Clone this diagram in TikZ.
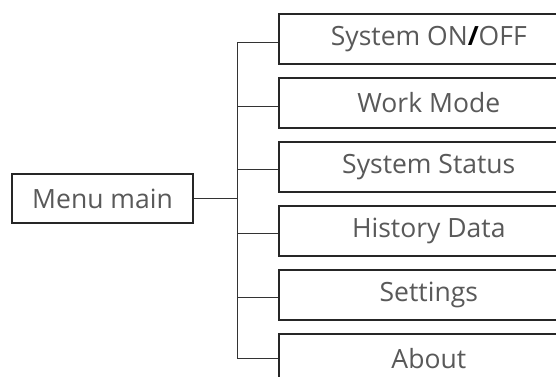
\documentclass[tikz,border=0pt]{standalone}
\usepackage{fontspec}
\setmainfont{Open Sans}
\begin{document}
\begin{tikzpicture}[x=1pt,y=-1pt,
  item/.style={draw=black!85,line width=1.6pt,anchor=north west,minimum width=300pt,minimum height=50pt,inner sep=0pt,text=black!65,font=\fontsize{26.5}{30}\selectfont},
  menubox/.style={draw=black!85,line width=1.4pt,minimum width=181pt,minimum height=49pt,inner sep=0pt,text=black!65,font=\fontsize{26.5}{30}\selectfont},
  conn/.style={draw=black!80,line width=1pt}]
\useasboundingbox (0,0) rectangle (556,376);
\clip (0,0) rectangle (556,376);
\fill[white] (0,0) rectangle (556,376);
\node[menubox] (menu) at (102.5,198.5) {Menu main};
\node[item] (b1) at (278,13) {System ON{\color{black}\textbf{/}}OFF};
\node[item] (b2) at (278,77) {Work Mode};
\node[item] (b3) at (278,141) {System Status};
\node[item] (b4) at (278,205) {History Data};
\node[item] (b5) at (278,269) {Settings};
\node[item] (b6) at (278,333) {About};
\coordinate (j1) at (237,42);
\coordinate (j2) at (237,106);
\coordinate (j3) at (237,169);
\coordinate (j4) at (237,233);
\coordinate (j5) at (237,297);
\coordinate (j6) at (237,358);
\draw[conn] (j1) -- (j6);
\draw[conn] (menu.east) -- (menu.east -| j1);
\foreach \i in {1,...,6}{\draw[conn] (j\i) -- (j\i -| b\i.west);}
\end{tikzpicture}
\end{document}
